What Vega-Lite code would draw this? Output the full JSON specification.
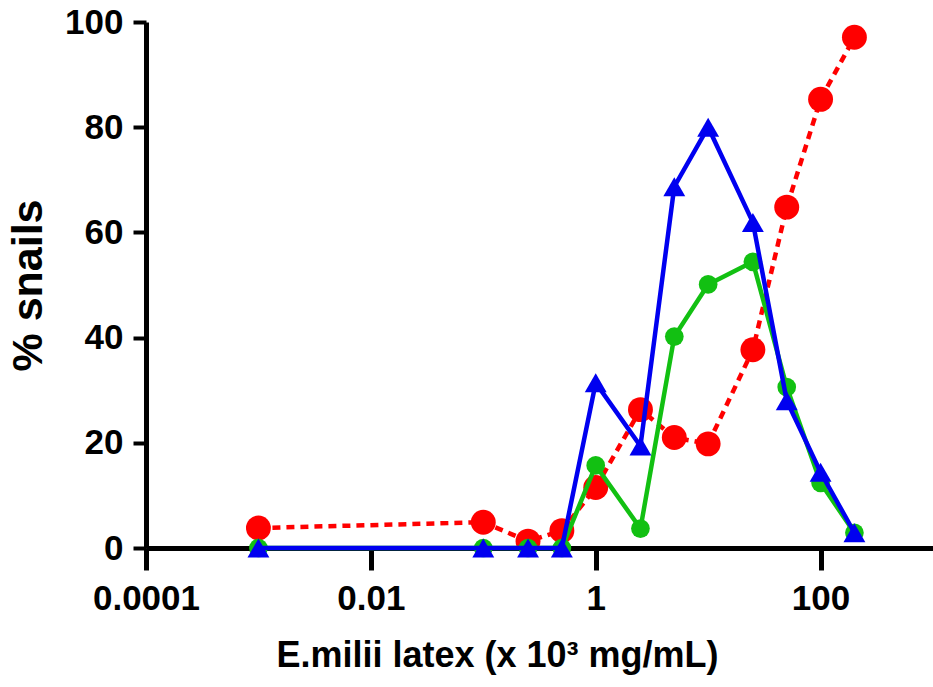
{
  "$schema": "https://vega.github.io/schema/vega-lite/v6.json",
  "width": 787,
  "height": 526,
  "autosize": {"type": "none"},
  "padding": {"left": 146, "top": 22, "right": 0, "bottom": 139},
  "background": "white",
  "config": {
    "view": {"stroke": null},
    "font": "Liberation Sans",
    "axis": {
      "domainColor": "black",
      "domainWidth": 5,
      "tickColor": "black",
      "labelColor": "black",
      "titleColor": "black",
      "labelFont": "Liberation Sans",
      "titleFont": "Liberation Sans",
      "labelFontWeight": "bold",
      "titleFontWeight": "bold",
      "labelFontSize": 35,
      "grid": false
    }
  },
  "data": {
    "values": [
      {"conc": 0.001, "pct": 3.8, "group": "red"},
      {"conc": 0.1, "pct": 4.9, "group": "red"},
      {"conc": 0.25, "pct": 1.3, "group": "red"},
      {"conc": 0.5, "pct": 3.3, "group": "red"},
      {"conc": 1, "pct": 11.5, "group": "red"},
      {"conc": 2.5, "pct": 26.3, "group": "red"},
      {"conc": 5, "pct": 21, "group": "red"},
      {"conc": 10, "pct": 19.8, "group": "red"},
      {"conc": 25, "pct": 37.7, "group": "red"},
      {"conc": 50, "pct": 64.8, "group": "red"},
      {"conc": 100, "pct": 85.3, "group": "red"},
      {"conc": 200, "pct": 97.1, "group": "red"},
      {"conc": 0.001, "pct": 0, "group": "green"},
      {"conc": 0.1, "pct": 0, "group": "green"},
      {"conc": 0.25, "pct": 0, "group": "green"},
      {"conc": 0.5, "pct": 0, "group": "green"},
      {"conc": 1, "pct": 15.7, "group": "green"},
      {"conc": 2.5, "pct": 3.7, "group": "green"},
      {"conc": 5, "pct": 40.2, "group": "green"},
      {"conc": 10, "pct": 50.1, "group": "green"},
      {"conc": 25, "pct": 54.4, "group": "green"},
      {"conc": 50, "pct": 30.6, "group": "green"},
      {"conc": 100, "pct": 12.4, "group": "green"},
      {"conc": 200, "pct": 2.9, "group": "green"},
      {"conc": 0.001, "pct": 0, "group": "blue"},
      {"conc": 0.1, "pct": 0, "group": "blue"},
      {"conc": 0.25, "pct": 0, "group": "blue"},
      {"conc": 0.5, "pct": 0, "group": "blue"},
      {"conc": 1, "pct": 31.4, "group": "blue"},
      {"conc": 2.5, "pct": 19.4, "group": "blue"},
      {"conc": 5, "pct": 68.7, "group": "blue"},
      {"conc": 10, "pct": 80, "group": "blue"},
      {"conc": 25, "pct": 61.9, "group": "blue"},
      {"conc": 50, "pct": 28, "group": "blue"},
      {"conc": 100, "pct": 14.4, "group": "blue"},
      {"conc": 200, "pct": 2.9, "group": "blue"}
    ]
  },
  "encoding": {
    "x": {
      "field": "conc",
      "type": "quantitative",
      "scale": {"type": "log", "domain": [0.0001, 1000], "nice": false},
      "axis": {
        "values": [0.0001, 0.01, 1, 100],
        "format": "~g",
        "tickSize": 22,
        "tickWidth": 5,
        "labelPadding": 11,
        "labelOverlap": false,
        "labelFlush": false,
        "title": "E.milii latex (x 10³ mg/mL)",
        "titleFontSize": 36,
        "titlePadding": 22,
        "titleX": 351
      }
    },
    "y": {
      "field": "pct",
      "type": "quantitative",
      "scale": {"domain": [0, 100], "nice": false},
      "axis": {
        "values": [0, 20, 40, 60, 80, 100],
        "tickSize": 13,
        "tickWidth": 4,
        "labelPadding": 10,
        "title": "% snails",
        "titleFontSize": 43,
        "titlePadding": 14
      }
    }
  },
  "layer": [
    {
      "transform": [{"filter": "datum.group === 'red'"}],
      "mark": {"type": "line", "color": "#ff0000", "strokeWidth": 4.5, "strokeDash": [8, 6]}
    },
    {
      "transform": [{"filter": "datum.group === 'red'"}],
      "mark": {"type": "point", "shape": "circle", "filled": true, "opacity": 1, "color": "#ff0000", "size": 620}
    },
    {
      "transform": [{"filter": "datum.group === 'green'"}],
      "mark": {"type": "line", "color": "#12c012", "strokeWidth": 4.5}
    },
    {
      "transform": [{"filter": "datum.group === 'green'"}],
      "mark": {"type": "point", "shape": "circle", "filled": true, "opacity": 1, "color": "#12c012", "size": 350}
    },
    {
      "transform": [{"filter": "datum.group === 'blue'"}],
      "mark": {"type": "line", "color": "#0000f0", "strokeWidth": 4.5}
    },
    {
      "transform": [{"filter": "datum.group === 'blue'"}],
      "mark": {"type": "point", "shape": "triangle-up", "filled": true, "opacity": 1, "color": "#0000f0", "size": 480}
    }
  ]
}
